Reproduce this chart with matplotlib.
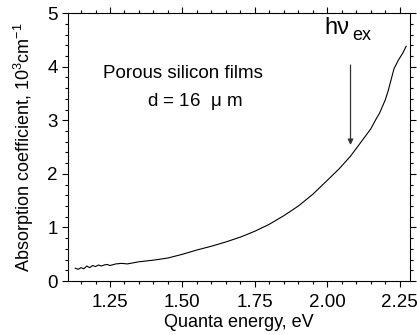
import matplotlib
matplotlib.use('Agg')
import matplotlib.pyplot as plt
from matplotlib.ticker import MultipleLocator, FormatStrFormatter

plt.rcParams['font.family'] = ['Liberation Sans', 'DejaVu Sans']
plt.rcParams['mathtext.fontset'] = 'custom'
plt.rcParams['mathtext.rm'] = 'Liberation Sans'
plt.rcParams['mathtext.it'] = 'Liberation Sans'

# absorption spectrum (eV, 10^3 cm^-1)
energy = [1.13, 1.14, 1.15, 1.16, 1.17, 1.18, 1.19, 1.20, 1.21, 1.22,
          1.23, 1.24, 1.25, 1.27, 1.29, 1.31, 1.33, 1.35, 1.40, 1.45,
          1.50, 1.55, 1.60, 1.65, 1.70, 1.75, 1.80, 1.85, 1.90, 1.95,
          2.00, 2.04, 2.08, 2.12, 2.15, 2.17, 2.18, 2.20, 2.21, 2.23,
          2.245, 2.26, 2.272]
alpha = [0.24, 0.22, 0.25, 0.23, 0.28, 0.25, 0.29, 0.27, 0.30, 0.28,
         0.30, 0.31, 0.29, 0.32, 0.33, 0.32, 0.34, 0.36, 0.39, 0.43,
         0.50, 0.58, 0.65, 0.73, 0.82, 0.93, 1.06, 1.22, 1.40, 1.62,
         1.88, 2.09, 2.33, 2.62, 2.84, 3.04, 3.13, 3.38, 3.55, 3.96,
         4.12, 4.25, 4.38]

fig = plt.figure(figsize=(4.17, 3.35), dpi=100)
ax = fig.add_axes([0.163, 0.161, 0.82, 0.80])

ax.plot(energy, alpha, color='black', lw=0.8)

ax.set_xlim(1.105, 2.285)
ax.set_ylim(0, 5)
ax.xaxis.set_major_locator(MultipleLocator(0.25))
ax.xaxis.set_minor_locator(MultipleLocator(0.05))
ax.xaxis.set_major_formatter(FormatStrFormatter('%.2f'))
ax.yaxis.set_major_locator(MultipleLocator(1))
ax.yaxis.set_minor_locator(MultipleLocator(0.2))
ax.tick_params(which='both', direction='out', top=True, right=True,
               labelsize=13.5, width=0.8)
ax.tick_params(axis='x', pad=5)
ax.tick_params(axis='y', pad=3)
ax.tick_params(which='major', length=4.5)
ax.tick_params(which='minor', length=2.5)
for s in ax.spines.values():
    s.set_linewidth(0.8)

ax.set_xlabel('Quanta energy, eV', fontsize=13, labelpad=2)
ax.set_ylabel(r'Absorption coefficient, 10$^{\mathregular{3}}$cm$^{\mathregular{-1}}$',
              fontsize=13, labelpad=8)

ax.text(1.502, 3.88, 'Porous silicon films', fontsize=13.5, ha='center', va='center')
ax.text(1.543, 3.35, r'd = 16  $\mathregular{\mu}$ m', fontsize=13.5, ha='center', va='center')

ax.text(1.991, 4.61, 'h\u03bd', fontsize=17, ha='left', va='baseline')
ax.text(2.087, 4.50, 'ex', fontsize=13, ha='left', va='baseline')
ax.annotate('', xy=(2.08, 2.54), xytext=(2.08, 4.03),
            arrowprops=dict(arrowstyle='-|>', color='#333333', lw=0.9,
                            mutation_scale=8, shrinkA=0, shrinkB=0))

fig.savefig('out.png', dpi=100)
